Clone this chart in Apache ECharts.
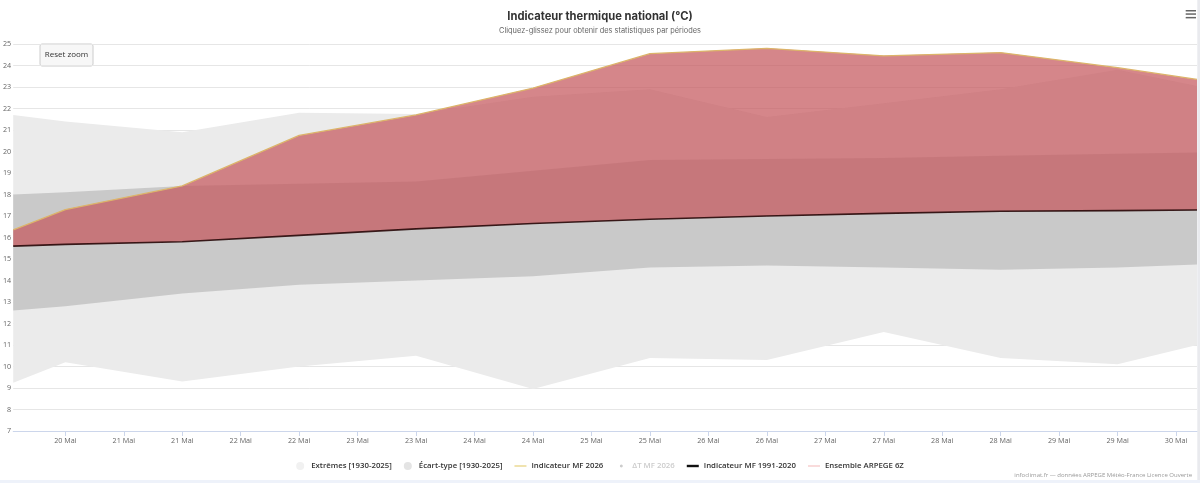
<!DOCTYPE html>
<html>
<head>
<meta charset="utf-8">
<script src="https://cdn.jsdelivr.net/npm/echarts@6/dist/echarts.min.js"></script>
<style>
  html, body { margin: 0; padding: 0; background: #fff; }
  #thermoChart { width: 1200px; height: 483px; }
</style>
</head>
<body>
<div id="thermoChart"></div>
<script>
// heures depuis le 20 Mai 00h (bords = limites de la vue zoomée)
const hours = [1.3, 12, 36, 60, 84, 108, 132, 156, 180, 204, 228, 244.3];

const extMin = [9.25, 10.2, 9.3, 10.0, 10.5, 8.95, 10.4, 10.3, 11.6, 10.4, 10.1, 11.0];
const extMax = [21.7, 21.4, 20.9, 21.8, 21.75, 22.55, 22.9, 21.6, 22.25, 22.9, 23.8, 23.05];
const sdMin = [12.6, 12.8, 13.4, 13.8, 14.0, 14.2, 14.6, 14.7, 14.6, 14.5, 14.6, 14.75];
const sdMax = [18.0, 18.1, 18.4, 18.5, 18.6, 19.1, 19.6, 19.65, 19.7, 19.8, 19.9, 19.95];
const mf2026 = [16.35, 17.3, 18.4, 20.75, 21.7, 22.95, 24.55, 24.8, 24.45, 24.6, 23.9, 23.35];
const normal = [15.6, 15.68, 15.8, 16.1, 16.4, 16.65, 16.85, 17.0, 17.12, 17.22, 17.25, 17.28];

// ticks toutes les 12h
const tickHours = [12, 24, 36, 48, 60, 72, 84, 96, 108, 120, 132, 144, 156, 168, 180, 192, 204, 216, 228, 240];
const tickLabels = ["20 Mai", "21 Mai", "21 Mai", "22 Mai", "22 Mai", "23 Mai", "23 Mai", "24 Mai",
  "24 Mai", "25 Mai", "25 Mai", "26 Mai", "26 Mai", "27 Mai", "27 Mai", "28 Mai", "28 Mai",
  "29 Mai", "29 Mai", "30 Mai"];

let chartDom = document.getElementById("thermoChart");
let myChart = echarts.init(chartDom);
let option;

const pairs = (vals) => hours.map((h, i) => [h, vals[i]]);

// bande min/max dessinée en un seul polygone via les échelles de l'axe
const band = (name, lo, hi, color) => ({
  name: name,
  type: "custom",
  silent: true,
  data: hours.map((h, i) => [h, lo[i], hi[i]]),
  encode: { x: 0, y: [1, 2] },
  itemStyle: { color: color },
  renderItem: (params, api) => {
    if (params.dataIndexInside !== 0) return null;
    const n = params.dataInsideLength;
    const up = [];
    const down = [];
    for (let i = 0; i < n; i++) {
      up.push(api.coord([api.value(0, i), api.value(2, i)]));
      down.unshift(api.coord([api.value(0, i), api.value(1, i)]));
    }
    return {
      type: "polygon",
      shape: { points: up.concat(down) },
      style: { fill: color },
    };
  },
});

const font = "Open Sans";

option = {
  animation: false,
  title: {
    text: "Indicateur thermique national (°C)",
    subtext: "Cliquez-glissez pour obtenir des statistiques par périodes",
    left: "center",
    top: 6,
    itemGap: 3,
    textStyle: { fontFamily: "Inter", fontSize: 11.2, fontWeight: 700, color: "#333", lineHeight: 12 },
    subtextStyle: { fontFamily: "Inter", fontSize: 7.4, color: "#666", lineHeight: 9 },
  },
  grid: { left: 10, right: 3, top: 44, bottom: 52 },
  legend: {
    top: 457,
    left: "center",
    itemWidth: 12,
    itemHeight: 8,
    itemGap: 12,
    inactiveColor: "#ccc",
    inactiveBorderWidth: 0,
    selected: { "ΔT MF 2026": false },
    textStyle: { fontFamily: font, fontSize: 7.8, fontWeight: 600, color: "#333" },
    data: [
      { name: "Extrêmes [1930-2025]", icon: "circle", itemStyle: { color: "#f1f1f1", borderWidth: 0 } },
      { name: "Écart-type [1930-2025]", icon: "circle", itemStyle: { color: "#e4e4e4", borderWidth: 0 } },
      { name: "Indicateur MF 2026", icon: "path://M0,0H12V1.2H0Z", itemStyle: { color: "#e6d07a", borderWidth: 0 } },
      // petit point dans une boîte 12x8
      { name: "ΔT MF 2026", icon: "path://M0,0L0.01,0M12,8L12.01,8M4.5,4a1.5,1.5 0 1,0 3,0a1.5,1.5 0 1,0 -3,0Z" },
      { name: "Indicateur MF 1991-2020", icon: "path://M0,0H12V2.4H0Z", itemStyle: { color: "#111", borderWidth: 0 } },
      { name: "Ensemble ARPEGE 6Z", icon: "path://M0,0H12V1H0Z", itemStyle: { color: "#f2b6b6", borderWidth: 0 } },
    ],
  },
  xAxis: {
    type: "value",
    min: hours[0],
    max: hours[hours.length - 1],
    axisLine: { onZero: false, lineStyle: { color: "#ccd6eb" } },
    axisTick: { customValues: tickHours, length: 5, lineStyle: { color: "#ccd6eb" } },
    axisLabel: {
      customValues: tickHours,
      formatter: (v) => tickLabels[tickHours.indexOf(v)],
      fontFamily: font, fontSize: 7.2, color: "#666", margin: 6,
    },
    splitLine: { show: false },
  },
  yAxis: {
    type: "value",
    min: 7,
    max: 25,
    interval: 1,
    axisLine: { show: false },
    axisTick: { show: false },
    axisLabel: { fontFamily: font, fontSize: 7.2, color: "#666", margin: 2 },
    splitLine: { lineStyle: { color: "#e6e6e6" } },
  },
  series: [
    band("Extrêmes [1930-2025]", extMin, extMax, "#ebebeb"),
    band("Écart-type [1930-2025]", sdMin, sdMax, "#c9c9c9"),
    // anomalie : remplissage rouge entre normale et indicateur
    band("Indicateur MF 2026", normal, mf2026, "rgba(197,87,93,0.72)"),
    {
      name: "ΔT MF 2026", type: "line", showSymbol: false,
      data: pairs(mf2026.map((v, i) => v - normal[i])),
      lineStyle: { color: "#aaa", width: 1 },
    },
    {
      name: "Ensemble ARPEGE 6Z", type: "line", showSymbol: false,
      data: [], lineStyle: { color: "#f2b6b6", width: 1 },
    },
    {
      name: "Indicateur MF 2026", type: "line", showSymbol: false, silent: true,
      data: pairs(mf2026), lineStyle: { color: "#dcb46a", width: 1.3 },
    },
    {
      name: "Indicateur MF 1991-2020", type: "line", showSymbol: false, silent: true,
      data: pairs(normal), lineStyle: { color: "rgba(30,0,0,0.85)", width: 1.6 },
    },
  ],
  graphic: [
    // bouton Reset zoom
    {
      type: "group", left: 39.5, top: 43.5,
      children: [
        { type: "rect", shape: { x: 0, y: 0, width: 53, height: 22, r: 2 },
          style: { fill: "#f7f7f7", stroke: "#cccccc", lineWidth: 1 } },
        { type: "text", x: 26.5, y: 11,
          style: { text: "Reset zoom", fontFamily: font, fontSize: 8, fill: "#333", align: "center", verticalAlign: "middle" } },
      ],
    },
    // menu
    { type: "rect", shape: { x: 1185.7, y: 10, width: 10.3, height: 1.5 }, style: { fill: "#666" } },
    { type: "rect", shape: { x: 1185.7, y: 13.3, width: 10.3, height: 1.5 }, style: { fill: "#666" } },
    { type: "rect", shape: { x: 1185.7, y: 16.9, width: 10.3, height: 1.5 }, style: { fill: "#666" } },
    // crédits
    { type: "text", x: 1192, y: 475,
      style: { text: "infoclimat.fr — données ARPEGE Météo-France Licence Ouverte", fontFamily: font,
        fontSize: 6, fill: "#999", align: "right", verticalAlign: "middle" } },
    // bordures
    { type: "rect", shape: { x: 1197.3, y: 0, width: 3, height: 483 }, style: { fill: "#e9eaee" } },
    { type: "rect", shape: { x: 0, y: 480, width: 1200, height: 3 }, style: { fill: "#eef2fa" } },
  ],
};

option && myChart.setOption(option);
</script>
</body>
</html>
